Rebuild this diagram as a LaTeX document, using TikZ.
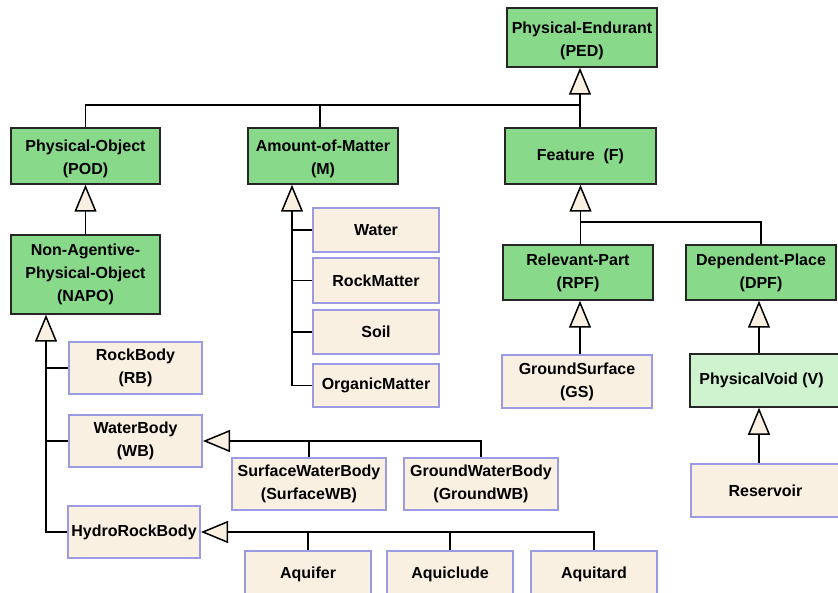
\documentclass[tikz,border=0pt]{standalone}
\usepackage{fontspec}
\setmainfont{Liberation Sans}
\usetikzlibrary{arrows.meta}
\definecolor{gfill}{RGB}{136,217,138}
\definecolor{lgfill}{RGB}{206,243,206}
\definecolor{bfill}{RGB}{250,240,226}
\definecolor{lav}{RGB}{155,155,228}
\definecolor{tribg}{RGB}{250,240,226}
\newcommand{\topstrut}{\rule{0pt}{17.7pt}}
\tikzset{
  box/.style={rectangle, inner sep=0pt, align=center, font=\fontsize{16}{23}\selectfont\bfseries},
  gbox/.style={box, fill=gfill, draw=black!85, line width=1.5pt},
  lgbox/.style={box, fill=lgfill, draw=black!85, line width=1.5pt},
  bbox/.style={box, fill=bfill, draw=lav, line width=2pt},
  conn/.style={draw=black, line width=1.5pt, line join=miter},
  gen/.style={conn, -{Triangle[length=27pt,width=22pt,fill=tribg,line width=1.5pt]}},
}
\begin{document}
\begin{tikzpicture}[x=1pt,y=-1pt]
\fill[white] (0,0) rectangle (838,593);
\useasboundingbox (0,0) rectangle (838,593);
\clip (0,0) rectangle (838,593);
% top
\node[gbox, minimum width=150, minimum height=59] (PED) at (582,37.5) {\topstrut Physical-Endurant\\(PED)};
\node[gbox, minimum width=149, minimum height=56] (POD) at (85.5,156) {\topstrut Physical-Object\\(POD)};
\node[gbox, minimum width=150, minimum height=56] (AoM) at (323,156) {\topstrut Amount-of-Matter\\(M)};
\node[gbox, minimum width=151, minimum height=56] (F) at (580.5,156) {Feature~ (F)};
\node[gbox, minimum width=149, minimum height=79] (NAPO) at (85.5,274.5) {Non-Agentive-\\Physical-Object\\(NAPO)};
% matter
\node[bbox, minimum width=126, minimum height=44] (Water) at (376,230) {Water};
\node[bbox, minimum width=126, minimum height=45] (RM) at (376,280.5) {RockMatter};
\node[bbox, minimum width=126, minimum height=44] (Soil) at (376,332) {Soil};
\node[bbox, minimum width=126, minimum height=43] (OM) at (376,385.5) {OrganicMatter};
% features
\node[gbox, minimum width=150, minimum height=55] (RPF) at (578,272.5) {Relevant-Part\\(RPF)};
\node[gbox, minimum width=150, minimum height=55] (DPF) at (761,272.5) {Dependent-Place\\(DPF)};
\node[bbox, minimum width=150, minimum height=53] (GS) at (577,381.5) {GroundSurface\\(GS)};
\node[lgbox, minimum width=155, minimum height=53] (PV) at (767.5,380.5) {PhysicalVoid (V)\hspace{12pt}};
\node[bbox, minimum width=154, minimum height=53] (Res) at (768,490.5) {Reservoir\hspace{5pt}};
% NAPO children
\node[bbox, minimum width=133, minimum height=52] (RB) at (135.5,368) {RockBody\\(RB)};
\node[bbox, minimum width=133, minimum height=52] (WB) at (135.5,441) {WaterBody\\(WB)};
\node[bbox, minimum width=132, minimum height=52] (HRB) at (134,532) {HydroRockBody};
\node[bbox, minimum width=154, minimum height=52] (SWB) at (309,484) {SurfaceWaterBody\\(SurfaceWB)};
\node[bbox, minimum width=154, minimum height=52] (GWB) at (481,484) {GroundWaterBody\\(GroundWB)};
\node[bbox, minimum width=126, minimum height=46] (Aqf) at (308,574) {Aquifer};
\node[bbox, minimum width=126, minimum height=46] (Aqc) at (450,574) {Aquiclude};
\node[bbox, minimum width=126, minimum height=46] (Aqt) at (594,574) {Aquitard};
% helper coordinates
\coordinate (jtop) at (580,105);
\coordinate (amx) at (292,0);
\coordinate (yfj) at (0,222);
\coordinate (vx) at (759,0);
\coordinate (nx) at (46,0);
% connectors
\draw[gen] (F.north -| jtop) -- (PED.south -| jtop);
\draw[conn] (POD.north) |- (jtop);
\draw[conn] (AoM.north -| 320,0) -- (320,105);
\draw[gen] (NAPO.north) -- (POD.south);
\draw[gen] (OM.west) -| (AoM.south -| amx);
\draw[conn] (Water.west) -- (Water.west -| amx);
\draw[conn] (RM.west) -- (RM.west -| amx);
\draw[conn] (Soil.west) -- (Soil.west -| amx);
\draw[gen] (DPF.north) |- (F.south |- yfj) -- (F.south);
\draw[conn] (RPF.north -| F.south) -- (F.south |- yfj);
\draw[gen] (GS.north -| 580,0) -- (RPF.south -| 580,0);
\draw[gen] (PV.north -| vx) -- (DPF.south -| vx);
\draw[gen] (Res.north -| vx) -- (PV.south -| vx);
\draw[gen] (HRB.west) -| (NAPO.south -| nx);
\draw[conn] (RB.west) -- (RB.west -| nx);
\draw[conn] (WB.west) -- (WB.west -| nx);
\draw[gen] (GWB.north) |- (WB.east);
\draw[conn] (SWB.north) -- (SWB.north |- WB.east);
\draw[gen] (Aqt.north) |- (HRB.east);
\draw[conn] (Aqf.north) -- (Aqf.north |- HRB.east);
\draw[conn] (Aqc.north) -- (Aqc.north |- HRB.east);
\end{tikzpicture}
\end{document}
